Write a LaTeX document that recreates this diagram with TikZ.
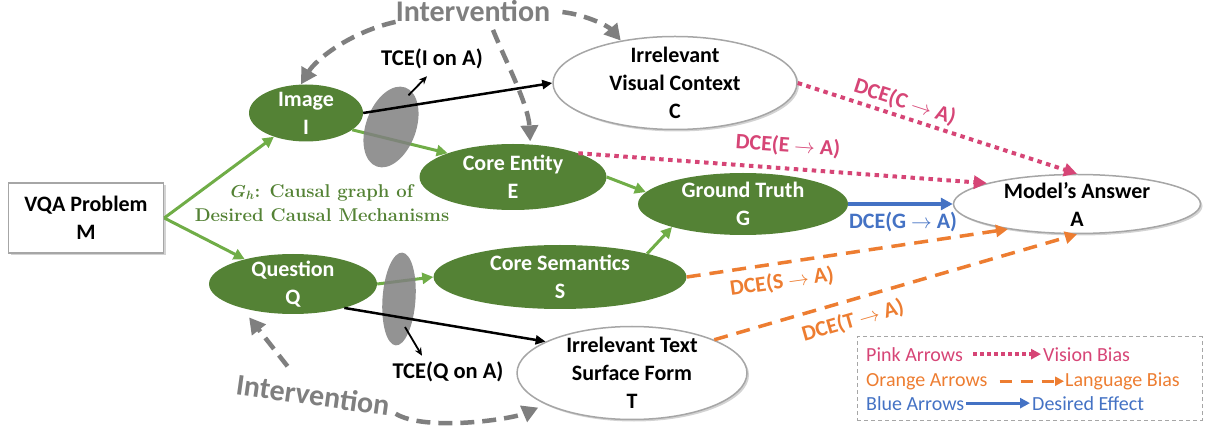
\documentclass[tikz,border=0pt]{standalone}
\usepackage{amsmath}
\usepackage{amssymb}
\usepackage{fontspec}
\setsansfont{Carlito}
\renewcommand{\familydefault}{\sfdefault}
\usepackage{tikz}
\usetikzlibrary{shapes.geometric,arrows.meta,shadows,calc}

\definecolor{nodegreen}{RGB}{84,130,53}
\definecolor{arrowgreen}{RGB}{112,173,71}
\definecolor{biaspink}{RGB}{214,69,118}
\definecolor{biasorange}{RGB}{237,125,49}
\definecolor{effectblue}{RGB}{68,114,196}
\definecolor{intvgray}{RGB}{127,127,127}
\definecolor{edgegray}{RGB}{166,166,166}
\definecolor{tcegray}{RGB}{128,128,128}

\tikzset{
  nodetext/.style={font=\sffamily\fontsize{22}{28}\selectfont\bfseries, align=center, inner sep=0pt},
  greennode/.style={ellipse, fill=nodegreen, inner sep=0pt, label={[nodetext,text=white]center:#1}},
  whitenode/.style={ellipse, draw=edgegray, line width=1.5pt, fill=white, inner sep=0pt,
    drop shadow={shadow xshift=2pt, shadow yshift=-2pt, opacity=0.35},
    label={[nodetext,text=black]center:#1}},
  problembox/.style={rectangle, draw=edgegray, line width=1.5pt, fill=white, nodetext,
    drop shadow={shadow xshift=2pt, shadow yshift=-2pt, opacity=0.35}},
  tceshape/.style={ellipse, fill=tcegray, fill opacity=0.85, inner sep=0pt},
  tcelabel/.style={font=\sffamily\fontsize{22.5}{26}\selectfont\bfseries, inner sep=0pt},
  dcelabel/.style={font=\sffamily\fontsize{22}{26}\selectfont\bfseries, inner sep=0pt},
  intvlabel/.style={text=intvgray, font=\sffamily\fontsize{30}{34}\selectfont\bfseries, inner sep=0pt},
  ghlabel/.style={text=nodegreen, font=\rmfamily\bfseries\fontsize{18.5}{24}\selectfont, align=center, inner sep=0pt},
  legendtext/.style={font=\sffamily\fontsize{20}{24}\selectfont, inner sep=0pt},
  greenarrow/.style={arrowgreen, line width=3pt, -{Triangle[length=11pt,width=11pt]}},
  blackarrow/.style={black, line width=2.5pt, -{Triangle[length=10pt,width=9pt]}},
  tcearrow/.style={black, line width=1.8pt, -{Stealth[length=8pt,width=7pt]}},
  pinkarrow/.style={biaspink, line width=4pt, dash pattern=on 4.5pt off 4.5pt, -{Triangle[length=13pt,width=13pt]}},
  orangearrow/.style={biasorange, line width=3.5pt, dash pattern=on 14pt off 9pt, -{Triangle[length=12pt,width=12pt]}},
  bluearrow/.style={effectblue, line width=3.5pt, -{Triangle[length=12pt,width=12pt]}},
  intvarrow/.style={intvgray, line width=4.5pt, dash pattern=on 14pt off 8pt, -{Triangle[length=16pt,width=17pt]}}
}

\begin{document}
\begin{tikzpicture}[x=1pt,y=1pt,yscale=-1,font=\sffamily]
\useasboundingbox (0,0) rectangle (1212,427);

%Shape: Rectangle
\node[problembox, minimum width=155pt, minimum height=70pt] (M) at (86,218) {VQA Problem\\M};
%Shape: Ellipse (green)
\node[greennode={Image\\I}, minimum width=114pt, minimum height=57pt] (I) at (306,113) {};
\node[greennode={Question\\Q}, minimum width=168pt, minimum height=60pt] (Q) at (293,284) {};
\node[greennode={Core Entity\\E}, minimum width=187pt, minimum height=66pt] (E) at (513,177) {};
\node[greennode={Ground Truth\\G}, minimum width=210pt, minimum height=62pt] (G) at (743,204) {};
\node[greennode={Core Semantics\\S}, minimum width=253pt, minimum height=64pt] (S) at (560,277) {};
%Shape: Ellipse (white)
\node[whitenode={Irrelevant\\Visual Context\\C}, minimum width=244pt, minimum height=93pt] (C) at (675,83) {};
\node[whitenode={Model's Answer\\A}, minimum width=247pt, minimum height=59pt] (A) at (1077,204) {};
\node[whitenode={Irrelevant Text\\Surface Form\\T}, minimum width=230pt, minimum height=93pt] (T) at (632,373) {};

% causal graph arrows
\draw[greenarrow] (M.east) -- (I);
\draw[greenarrow] (M.east) -- (Q);
\draw[greenarrow] (I.-20) -- (E.160);
\draw[greenarrow] (Q.east) -- (S.west);
\draw[greenarrow] (E.east) -- (G.173);
\draw[greenarrow] (S.15) -- (G.198);

%Shape: Ellipse (TCE)
\node[tceshape, minimum width=50pt, minimum height=84pt, rotate=-20] (TI) at (391,127) {};
\node[tceshape, minimum width=33pt, minimum height=93pt, rotate=-4] (TQ) at (399,299) {};

\draw[blackarrow] (I.east) -- (C.west);
\draw[blackarrow] (Q.-25) -- (T.160);

% Text Node
\node[tcelabel] (tcei) at (432,59) {TCE(I on A)};
\node[tcelabel] (tceq) at (448,372) {TCE(Q on A)};
\draw[tcearrow] ($(TI.north)+(3,8)$) -- ($(tcei.south)+(-5,7)$);
\draw[tcearrow] ($(TQ)+(6,28)$) -- ($(tceq.north)+(-26,-6)$);

% bias arrows
\draw[pinkarrow] (C.east) -- (A.north);
\draw[pinkarrow] (E.20) -- (A.167);
\draw[bluearrow] (G.east) -- (A.west);
\draw[orangearrow] (S.east) -- (A.200);
\draw[orangearrow] (T.22) -- (A.south);

% Text Node
\node[dcelabel, text=biaspink, rotate=-18] (dceC) at (905,102) {DCE(C $\rightarrow$ A)};
\node[dcelabel, text=biaspink, rotate=-4] (dceE) at (788,146) {DCE(E $\rightarrow$ A)};
\node[dcelabel, text=effectblue] (dceG) at (903,222) {DCE(G $\rightarrow$ A)};
\node[dcelabel, text=biasorange, rotate=8] (dceS) at (782,282) {DCE(S $\rightarrow$ A)};
\node[dcelabel, text=biasorange, rotate=16] (dceT) at (853,321) {DCE(T $\rightarrow$ A)};

% Text Node
\node[ghlabel] (gh) at (322,203) {{\boldmath$G_h$}: Causal graph of\\Desired Causal Mechanisms};

% interventions
\node[intvlabel, anchor=base] (intv1) at (473,21.5) {Intervention};
\node[intvlabel, rotate=-8] (intv2) at (313,395) {Intervention};
\draw[intvarrow] (intv1.south west) .. controls +(-45,10) and +(15,-25) .. (I.100);
\draw[intvarrow] ($(intv1.east)+(12,1)$) .. controls +(25,3) and +(-12,-14) .. (C.142);
\draw[intvarrow, shorten >=3pt] ($(intv1.south)+(20,8)$) .. controls +(12,30) and +(-2,-40) .. (E.62);
\draw[intvarrow, shorten >=12pt] ($(intv2.north)+(-27,-18)$) -- (Q.205);
\draw[intvarrow, shorten >=8pt] ($(intv2.east)+(6,8)$) .. controls +(30,18) and +(-35,15) .. (T.200);

% legend
\node[draw=edgegray, line width=1pt, dash pattern=on 4pt off 3pt, minimum width=345pt, minimum height=83pt] (legend) at (1029.5,378.5) {};
\node[legendtext, text=biaspink, anchor=base west] (pinkL) at (866,361) {Pink Arrows};
\node[legendtext, text=biaspink, anchor=base west] (pinkR) at (1043,361) {Vision Bias};
\node[legendtext, text=biasorange, anchor=base west] (orangeL) at (866,386) {Orange Arrows};
\node[legendtext, text=biasorange, anchor=base west] (orangeR) at (1065,386) {Language Bias};
\node[legendtext, text=effectblue, anchor=base west] (blueL) at (866,410) {Blue Arrows};
\node[legendtext, text=effectblue, anchor=base west] (blueR) at (1032,410) {Desired Effect};
\draw[biaspink, line width=3.5pt, dash pattern=on 3.5pt off 3.5pt, -{Triangle[length=10pt,width=10pt]}, shorten <=10pt, shorten >=2pt] (pinkL.east) -- (pinkL.east -| pinkR.west);
\draw[biasorange, line width=3pt, dash pattern=on 12pt off 9pt, -{Triangle[length=9pt,width=9pt]}, shorten <=12pt, shorten >=1pt] (orangeL.east) -- (orangeL.east -| orangeR.west);
\draw[effectblue, line width=3pt, -{Triangle[length=10pt,width=10pt]}, shorten <=2pt, shorten >=2pt] (blueL.east) -- (blueL.east -| blueR.west);
\end{tikzpicture}
\end{document}
